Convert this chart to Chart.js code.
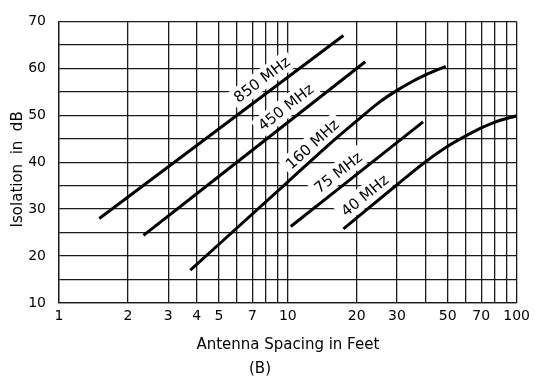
<!DOCTYPE html>
<html>
<head>
<meta charset="utf-8">
<script src="https://cdn.jsdelivr.net/npm/chart.js@4.4.1/dist/chart.umd.min.js"></script>
<style>
  html, body { margin: 0; padding: 0; background: #fff; }
</style>
</head>
<body>
<canvas id="isolationChart" width="535" height="379"></canvas>
<script>
// Isolation vs. antenna spacing, one curve per band
const bands = ['850 MHz', '450 MHz', '160 MHz', '75 MHz', '40 MHz'];

const spacing850 = [1.5, 17.5];
const isolation850 = [28, 67];

const spacing450 = [2.34, 21.8];
const isolation450 = [24.4, 61.4];

const spacing160 = [3.75, 10, 15, 20, 25, 30, 35, 40, 49];
const isolation160 = [17, 35.8, 43.6, 48.8, 52.7, 55.3, 57.2, 58.6, 60.4];

const spacing75 = [10.3, 39];
const isolation75 = [26.3, 48.6];

const spacing40 = [17.5, 30, 40, 50, 60, 70, 80, 100];
const isolation40 = [25.8, 35.2, 40.1, 43.4, 45.6, 47.3, 48.5, 49.9];

// where each band name sits (data units)
const labelSpacing = [7.7, 9.8, 12.8, 16.6, 21.7];
const labelIsolation = [57.6, 51.7, 43.8, 37.8, 32.9];

// axis ticks
const xGridValues = [1, 2, 3, 4, 5, 6, 7, 8, 9, 10, 20, 30, 40, 50, 60, 70, 80, 90, 100];
const xTickLabels = [1, 2, 3, 4, 5, 7, 10, 20, 30, 50, 70, 100];
const yTickLabels = [10, 20, 30, 40, 50, 60, 70];

const series = [
  [spacing850, isolation850],
  [spacing450, isolation450],
  [spacing160, isolation160],
  [spacing75, isolation75],
  [spacing40, isolation40]
];

const toPoints = (xs, ys) => xs.map((v, i) => ({ x: v, y: ys[i] }));

// band names drawn along the lines, on a white patch
const bandLabels = {
  id: 'bandLabels',
  beforeDatasetsDraw(chart) {
    const { ctx, scales: { x, y } } = chart;
    ctx.save();
    ctx.font = '15px "DejaVu Sans"';
    ctx.textAlign = 'center';
    ctx.textBaseline = 'middle';
    chart.data.datasets.forEach((ds, i) => {
      const p0 = ds.data[0];
      const p1 = ds.data[1];
      const angle = Math.atan2(
        y.getPixelForValue(p1.y) - y.getPixelForValue(p0.y),
        x.getPixelForValue(p1.x) - x.getPixelForValue(p0.x)
      );
      const px = x.getPixelForValue(labelSpacing[i]);
      const py = y.getPixelForValue(labelIsolation[i]);
      const w = ctx.measureText(ds.label).width + 8;
      ctx.save();
      ctx.translate(px, py);
      ctx.rotate(angle);
      ctx.fillStyle = '#fff';
      ctx.fillRect(-w / 2, -10, w, 20);
      ctx.fillStyle = '#000';
      ctx.fillText(ds.label, 0, 1);
      ctx.restore();
    });
    ctx.restore();
  }
};

Chart.defaults.font.family = '"DejaVu Sans", sans-serif';
Chart.defaults.color = '#000';

const gridColor = '#1a1a1a';

new Chart(document.getElementById('isolationChart'), {
  type: 'scatter',
  data: {
    datasets: series.map(([xs, ys], i) => ({
      label: bands[i],
      data: toPoints(xs, ys),
      showLine: true,
      borderColor: '#000',
      borderWidth: 3,
      pointRadius: 0,
      cubicInterpolationMode: 'monotone',
      fill: false
    }))
  },
  options: {
    responsive: false,
    animation: false,
    layout: { padding: { top: 13, right: 15, left: 0, bottom: 0 } },
    plugins: {
      legend: { display: false },
      tooltip: { enabled: false },
      title: {
        display: true,
        position: 'bottom',
        text: '(B)',
        font: { size: 15, weight: 'normal' },
        padding: { top: 0, bottom: 1 }
      }
    },
    scales: {
      x: {
        type: 'logarithmic',
        min: 1,
        max: 100,
        afterBuildTicks: (scale) => {
          scale.ticks = xGridValues.map(v => ({ value: v }));
        },
        afterFit: (scale) => { scale.height = 57; },
        ticks: {
          autoSkip: false,
          maxRotation: 0,
          padding: 5,
          font: { size: 14 },
          callback: (value) => xTickLabels.includes(value) ? String(value) : ''
        },
        grid: { color: gridColor, lineWidth: 1.3, drawTicks: false },
        border: { color: gridColor, width: 1.3 },
        title: {
          display: true,
          text: 'Antenna Spacing in Feet',
          font: { size: 15 },
          padding: { top: 0, bottom: 6 }
        }
      },
      y: {
        min: 10,
        max: 70,
        afterFit: (scale) => { scale.width = 59; },
        ticks: {
          stepSize: 5,
          padding: 13,
          font: { size: 14 },
          callback: (value) => yTickLabels.includes(value) ? String(value) : ''
        },
        grid: { color: gridColor, lineWidth: 1.3, drawTicks: false },
        border: { color: gridColor, width: 1.3 },
        title: {
          display: true,
          text: 'Isolation  in  dB   ',
          font: { size: 15 },
          padding: { top: 9, bottom: 0 }
        }
      }
    }
  },
  plugins: [bandLabels]
});
</script>
</body>
</html>
